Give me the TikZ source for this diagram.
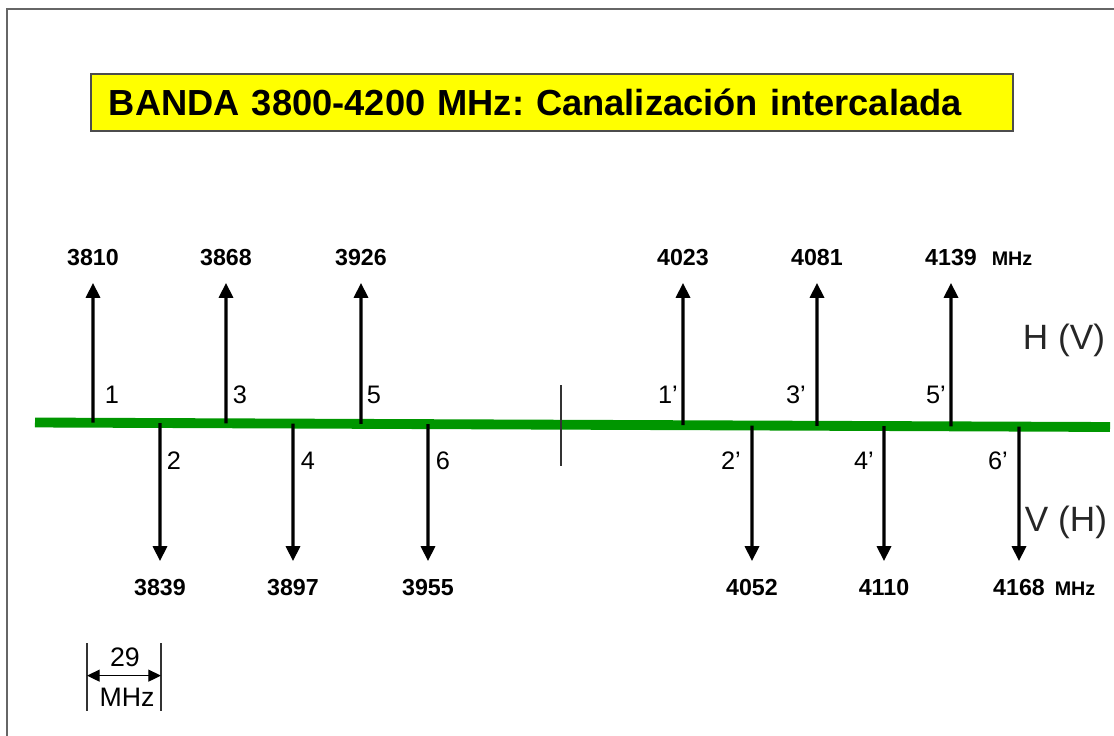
\documentclass[tikz,border=0pt]{standalone}
\usepackage{fontspec}
\setmainfont{Liberation Sans}
\usetikzlibrary{calc,arrows.meta}
\definecolor{axisgreen}{RGB}{0,150,0}
\definecolor{titleyellow}{RGB}{255,255,0}
\frenchspacing
\tikzset{
	titlebox/.style={draw=black!70, line width=1pt, fill=titleyellow, text width=22.15cm, inner xsep=0.45cm, minimum height=1.425cm, align=left, font=\fontsize{25.8}{30}\selectfont\bfseries},
	freq/.style={font=\fontsize{16.5}{18}\selectfont\bfseries},
	unitlbl/.style={font=\fontsize{14}{16}\selectfont\bfseries},
	chan/.style={font=\fontsize{18}{20}\selectfont},
	pol/.style={font=\fontsize{25}{28}\selectfont, text=black!85},
	carrier/.style={line width=2.2pt, -{Triangle[length=10.5pt,width=10pt]}},
	spacing/.style={line width=0.9pt, {Triangle[length=9pt,width=8.5pt]}-{Triangle[length=9pt,width=8.5pt]}},
}

\begin{document}
\begin{tikzpicture}[x=0.025cm, y=-0.025cm]
		\useasboundingbox (0,0) rectangle (1114,736);
		%%%%% FRAME %%%%%
		\draw[black!60, line width=1.4pt] (1114,9) -- (7,9) -- (7,736);
		
		%%%%% TITLE %%%%%
		\node[titlebox] (title) at (552,102.5) {BANDA 3800-4200 MHz: Canalización intercalada};
		
		%%%%% AXIS %%%%%
		\coordinate (axL) at (35,422.5);
		\coordinate (axR) at (1110,427);
		\draw[axisgreen, line width=7pt] (axL) -- (axR);
		\coordinate (divT) at (561,385);
		\coordinate (divB) at (561,466);
		\draw[black!80, line width=0.8pt] (divT) -- (divB);
		
		%%%%% UPPER CARRIERS %%%%%
		\foreach \px/\f/\n/\nx [count=\i] in {93/3810/1/112, 226/3868/3/240, 361/3926/5/374, 683/4023/1'/668, 817/4081/3'/796, 951/4139/5'/936} {
			\coordinate (up\i) at ($(axL)!{(\px-35)/1075}!(axR)$);
			\coordinate (tu\i) at (\px,283);
			\node[freq] (fu\i) at (\px,258) {\f};
			\node[chan] (nu\i) at (\nx,395) {\n};
			\draw[carrier] (up\i) -- (tu\i);
		}
		\node[unitlbl] (mhzU) at (1012,259) {MHz};
		
		%%%%% LOWER CARRIERS %%%%%
		\foreach \px/\f/\n/\nx [count=\i] in {160/3839/2/174, 293/3897/4/308, 428/3955/6/443, 752/4052/2'/731, 884/4110/4'/864, 1019/4168/6'/998} {
			\coordinate (dn\i) at ($(axL)!{(\px-35)/1075}!(axR)$);
			\coordinate (td\i) at (\px,561);
			\node[freq] (fd\i) at (\px,588) {\f};
			\node[chan] (nd\i) at (\nx,461) {\n};
			\draw[carrier] (dn\i) -- (td\i);
		}
		\node[unitlbl] (mhzD) at (1075,589) {MHz};
		
		%%%%% POLARISATION %%%%%
		\node[pol] (hv) at (1064,340) {H (V)};
		\node[pol] (vh) at (1066,522) {V (H)};
		
		%%%%% SPACING 29 MHz %%%%%
		\coordinate (spLT) at (87,643);
		\coordinate (spLB) at (87,711);
		\coordinate (spRT) at (161,643);
		\coordinate (spRB) at (161,711);
		\draw[black!80, line width=0.8pt] (spLT) -- (spLB);
		\draw[black!80, line width=0.8pt] (spRT) -- (spRB);
		\draw[spacing] ($(spLT)!0.48!(spLB)$) -- ($(spRT)!0.48!(spRB)$);
		\node[chan, font=\fontsize{19}{21}\selectfont] (spv) at (125,657) {29};
		\node[chan, font=\fontsize{19}{21}\selectfont] (spu) at (127,697) {MHz};
	\end{tikzpicture}
\end{document}
